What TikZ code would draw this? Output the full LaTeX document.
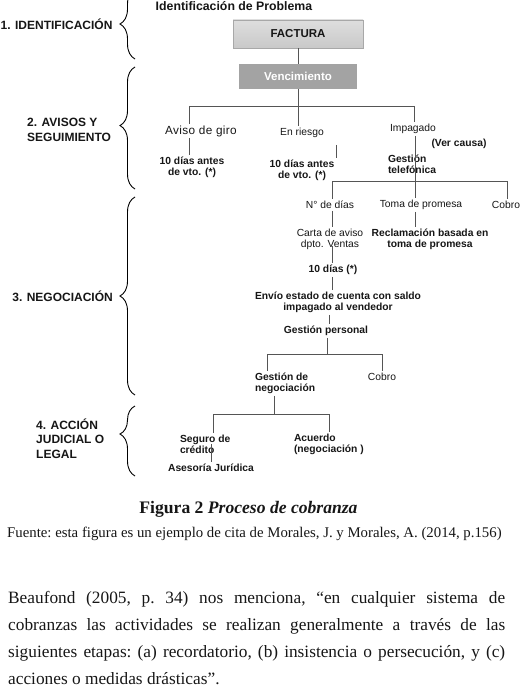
\documentclass[tikz,border=0pt]{standalone}
\usepackage{fontspec}
\setmainfont{Liberation Sans}
\newfontfamily\captionserif{Liberation Serif}
\usetikzlibrary{decorations.pathreplacing}

\definecolor{linegray}{HTML}{555555}
\definecolor{facttop}{HTML}{DEDEDE}
\definecolor{factbot}{HTML}{C9C9C9}
\definecolor{factedge}{HTML}{A8A8A8}
\definecolor{vencfill}{HTML}{A3A3A3}
\definecolor{ink}{HTML}{161616}

\begin{document}
\begin{tikzpicture}[x=1pt, y=-1pt,
  lbl/.style={inner sep=0pt, outer sep=2pt, align=center, text=ink,
              font=\fontsize{10.3}{11}\selectfont},
  lblb/.style={lbl, font=\fontsize{10.3}{11}\selectfont\bfseries},
  stage/.style={inner sep=0pt, align=left, text=ink,
                font=\fontsize{12}{14.3}\selectfont\bfseries},
  conn/.style={draw=linegray, line width=0.8pt},
  stagebrace/.style={draw=black, line width=0.9pt, decorate,
                     decoration={brace, amplitude=15pt, aspect=#1}},
  stagebrace/.default=0.5,
  factbox/.style={draw=factedge, top color=facttop, bottom color=factbot,
                  minimum width=130pt, minimum height=28pt, inner sep=0pt,
                  text=ink, font=\fontsize{11.5}{13}\selectfont\bfseries},
  vencbox/.style={fill=vencfill, minimum width=118pt, minimum height=25pt,
                  inner sep=0pt, text=white,
                  font=\fontsize{11.5}{13}\selectfont\bfseries},
]
\useasboundingbox (0,0) rectangle (525,698);

% --- heading and top boxes
\node[lblb, font=\fontsize{12.3}{14}\selectfont\bfseries, anchor=base] (title) at (234,10.5) {Identificación de Problema};
\node[factbox] (fact) at (298,34) {FACTURA};
\node[vencbox] (venc) at (298,76.5) {Vencimiento};

% --- stage 2: notices
\node[lbl, font=\fontsize{11.8}{12}\addfontfeatures{LetterSpace=3}] (aviso) at (201,131) {Aviso de giro};
\node[lbl] (riesgo) at (302,133) {En riesgo};
\node[lbl] (impag) at (413,129) {Impagado};
\node[lblb] (vercausa) at (459,144) {(Ver causa)};
\node[lblb] (dias1) at (192,167.5) {10 días antes\\de vto. (*)};
\node[lblb] (dias2) at (302,170.5) {10 días antes\\de vto. (*)};

% --- stage 3: negotiation
\node[lblb, anchor=west, align=left] (gestel) at (386,164.5) {Gestión\\telefónica};
\node[lbl] (ndias) at (330,205) {N° de días};
\node[lbl] (toma) at (421,205) {Toma de promesa};
\node[lbl] (cobro1) at (506,205) {Cobro};
\node[lbl] (carta) at (330,239.5) {Carta de aviso\\dpto. Ventas};
\node[lblb] (reclam) at (430,239.5) {Reclamación basada en\\toma de promesa};
\node[lblb] (dias3) at (333,270) {10 días (*)};
\node[lblb] (envio) at (338,302.5) {Envío estado de cuenta con saldo\\impagado al vendedor};
\node[lblb] (gpers) at (326,331) {Gestión personal};
\node[lblb, anchor=west, align=left] (gneg) at (253,383.5) {Gestión de\\negociación};
\node[lbl] (cobro2) at (382,377) {Cobro};

% --- stage 4: legal action
\node[lblb, anchor=west, align=left] (seguro) at (178,444) {Seguro de\\crédito};
\node[lblb, anchor=west, align=left] (acuerdo) at (292,444) {Acuerdo\\(negociación )};
\node[lblb] (asesoria) at (211,468) {Asesoría Jurídica};

% --- junction points of the tree
\coordinate (j1) at (298,106);
\coordinate (j1l) at (189,106);
\coordinate (j1r) at (414,106);
\coordinate (j2) at (415,181);
\coordinate (j2l) at (332,181);
\coordinate (j2r) at (507,181);
\coordinate (j3) at (327,354);
\coordinate (j3l) at (267,354);
\coordinate (j3r) at (382,354);
\coordinate (j4) at (274,414);
\coordinate (j4l) at (213,414);
\coordinate (j4r) at (329,414);

% --- connectors
\draw[conn] (fact.south) -- (venc.north);
\draw[conn] (venc.south) -- (j1);
\draw[conn] (j1l) -- (j1r);
\draw[conn] (j1l) -- (j1l |- aviso.north);
\draw[conn] (j1) -- (j1 |- riesgo.north);
\draw[conn] (j1r) -- (j1r |- impag.north);
\draw[conn] (aviso.south -| j1l) -- (dias1.north -| j1l);
\draw[conn, shorten <=5pt] (riesgo.south -| dias2.east) -- (dias2.north east);
\draw[conn] (impag.south -| j2) -- (j2 |- toma.north);
\draw[conn] (j2l) -- (j2r);
\draw[conn] (j2l) -- (j2l |- ndias.north);
\draw[conn] (j2r) -- (j2r |- cobro1.north);
\draw[conn] (ndias.south -| j2l) -- (carta.north -| j2l);
\draw[conn] (toma.south -| j2) -- (reclam.north -| j2);
\draw[conn, shorten <=-6pt] (carta.south -| j2l) -- (dias3.north -| j2l);
\draw[conn] (dias3.south -| j2l) -- (envio.north -| j2l);
\draw[conn] (envio.south -| j4r) -- (gpers.north -| j4r);
\draw[conn] (gpers.south -| j3) -- (j3);
\draw[conn] (j3l) -- (j3r);
\draw[conn] (j3l) -- (j3l |- gneg.north);
\draw[conn] (j3r) -- (j3r |- cobro2.north);
\draw[conn] (gneg.south -| j4) -- (j4);
\draw[conn] (j4l) -- (j4r);
\draw[conn] (j4l) -- (j4l |- seguro.north);
\draw[conn] (j4r) -- (j4r |- acuerdo.north);
\draw[conn] (seguro.center -| asesoria.north) -- (asesoria.north);

% --- stage labels with braces
\node[stage, anchor=west] (st1) at (0.5,24.5) {1. IDENTIFICACIÓN};
\node[stage, anchor=west] (st2) at (27,130) {2. AVISOS Y\\SEGUIMIENTO};
\node[stage, anchor=east] (st3) at (113,296.5) {3. NEGOCIACIÓN};
\node[stage, anchor=west] (st4) at (36,438.5) {4. ACCIÓN\\JUDICIAL O\\LEGAL};

\coordinate (b1a) at (135,59);  \coordinate (b1b) at (135,-11);
\coordinate (b2a) at (135,189); \coordinate (b2b) at (135,67);
\coordinate (b3a) at (135,395); \coordinate (b3b) at (135,197);
\coordinate (b4a) at (135,476); \coordinate (b4b) at (135,406);
\draw[stagebrace] (b1a) -- (b1b);
\draw[stagebrace=0.52] (b2a) -- (b2b);
\draw[stagebrace] (b3a) -- (b3b);
\draw[stagebrace=0.6] (b4a) -- (b4b);

% --- caption, source and paragraph
\node[anchor=base, inner sep=0pt, text=ink,
      font=\captionserif\fontsize{17.6}{20}\selectfont] (cap) at (248.5,513)
  {\textbf{Figura 2} \textbf{\textit{Proceso de cobranza}}};
\node[anchor=base west, inner sep=0pt, text=ink,
      font=\captionserif\fontsize{14.8}{17}\selectfont\frenchspacing] (src) at (7,537)
  {Fuente: esta figura es un ejemplo de cita de Morales, J. y Morales, A. (2014, p.156)};
% the base anchor of a multi-line node sits on its last line
\node[anchor=base west, inner sep=0pt, align=left, text=ink,
      font=\captionserif\fontsize{17.3}{27}\selectfont\frenchspacing] (para) at (8,684)
  {\makebox[497pt][s]{Beaufond (2005, p. 34) nos menciona, “en cualquier sistema de}\\
   \makebox[497pt][s]{cobranzas las actividades se realizan generalmente a través de las}\\
   \makebox[497pt][s]{siguientes etapas: (a) recordatorio, (b) insistencia o persecución, y (c)}\\
   acciones o medidas drásticas”.};
\end{tikzpicture}
\end{document}
